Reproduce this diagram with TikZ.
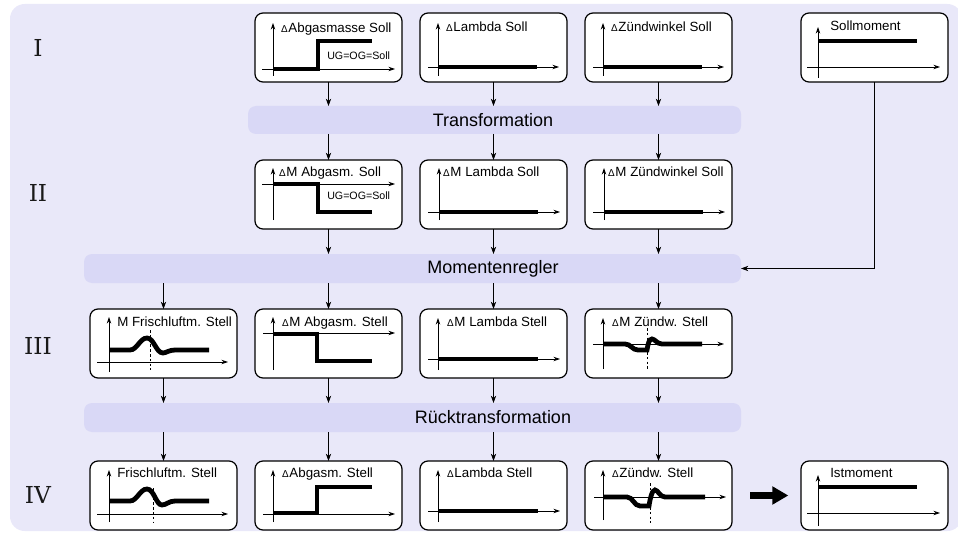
\documentclass[tikz,border=0pt]{standalone}
\usepackage{fontspec}
\setmainfont{Liberation Sans}
\newfontfamily\romfont{DejaVu Serif}
\usetikzlibrary{arrows.meta,fit}

\definecolor{bgcol}{HTML}{E9E8F9}
\definecolor{bandcol}{HTML}{D9D8F6}

% small delta sign in front of the chart titles
\newcommand\dd{{\fontsize{7.5}{7.5}\selectfont\symbol{"2206}}\hspace{0.8pt}}

\tikzset{
  band/.style={fill=bandcol, rounded corners=6pt, inner sep=0pt, outer sep=0pt},
  chart/.style={draw=black, line width=0.9pt, fill=white, rounded corners=6pt,
    inner sep=0pt, outer sep=0pt, anchor=north west,
    minimum width=110.25pt, minimum height=51.75pt},
  axis/.style={line width=0.65pt, -{Stealth[length=5pt,width=3.4pt]}},
  sig/.style={line width=3.6pt},
  guide/.style={line width=0.65pt, dash pattern=on 2pt off 1.6pt},
  flow/.style={line width=0.7pt, -{Stealth[length=5.5pt,width=4pt]}},
  bigarrow/.style={line width=4.6pt, -{Triangle[length=12pt,width=13pt]}},
  title/.style={font=\fontsize{10}{12}\selectfont, anchor=base west, inner sep=0pt},
  small/.style={font=\fontsize{8}{10}\selectfont, anchor=west, inner sep=0pt},
  bandtext/.style={font=\fontsize{13.5}{16}\selectfont, inner sep=0pt},
  rowlabel/.style={font=\romfont\fontsize{17.5}{20}\selectfont, inner sep=0pt,
    text=black!90},
}

\begin{document}
\begin{tikzpicture}[x=0.75pt, y=-0.75pt]
\useasboundingbox (0,0) rectangle (958,535);

% background panel
\fill[bgcol, rounded corners=11pt] (10,4) rectangle (962,531);

% row numbers
\node[rowlabel] (rI)   at (38,48)  {I};
\node[rowlabel] (rII)  at (38,193) {II};
\node[rowlabel] (rIII) at (38,346) {III};
\node[rowlabel] (rIV)  at (38,495) {IV};

% processing bands
\node[band, fit={(248,106) (741,134)}] (tr) {};
\node[band, fit={(84,254) (741,283)}] (mr) {};
\node[band, fit={(84,403) (741,432)}] (rt) {};
\node[bandtext] (trt) at (493,120.5) {Transformation};
\node[bandtext] (mrt) at (493,268.5) {Momentenregler};
\node[bandtext] (rtt) at (493,417.5) {Rücktransformation};

% ---------- row I ----------
\node[chart] (aI) at (255,13) {};
\begin{scope}[shift={(aI.north west)}]
  \draw[axis] (18,63) -- (18,10);
  \draw[axis] (7,56) -- (140,56);
  \draw[sig] (18,56) -- (63,56) -- (63,28) -- (117,28);
  \node[small] (aIu) at (72,43) {UG=OG=Soll};
  \node[title] (aIt) at (26,20) {\dd Abgasmasse Soll};
\end{scope}

\node[chart] (lI) at (420,13) {};
\begin{scope}[shift={(lI.north west)}]
  \draw[axis] (18,63) -- (18,10);
  \draw[axis] (8,54) -- (139,54);
  \draw[sig] (18,54) -- (117,54);
  \node[title] (lIt) at (26,19) {\dd Lambda Soll};
\end{scope}

\node[chart] (zI) at (585,13) {};
\begin{scope}[shift={(zI.north west)}]
  \draw[axis] (18,63) -- (18,10);
  \draw[axis] (8,54) -- (139,54);
  \draw[sig] (18,54) -- (117,54);
  \node[title] (zIt) at (26,19) {\dd Zündwinkel Soll};
\end{scope}

\node[chart] (soll) at (801,13) {};
\begin{scope}[shift={(soll.north west)}]
  \draw[axis] (17,65) -- (17,14);
  \draw[axis] (6,54) -- (139,54);
  \draw[sig] (17,28) -- (116,28);
  \node[title] (sollt) at (29,18) {Sollmoment};
\end{scope}

% ---------- row II ----------
\node[chart] (aII) at (255,160) {};
\begin{scope}[shift={(aII.north west)}]
  \draw[axis] (18,60) -- (18,8);
  \draw[axis] (7,24) -- (140,24);
  \draw[sig] (18,24) -- (63,24) -- (63,52) -- (117,52);
  \node[small] (aIIu) at (72,36) {UG=OG=Soll};
  \node[title] (aIIt) at (24,16) {\dd M Abgasm. Soll};
\end{scope}

\node[chart] (lII) at (420,160) {};
\begin{scope}[shift={(lII.north west)}]
  \draw[axis] (19,60) -- (19,8);
  \draw[axis] (8,52) -- (140,52);
  \draw[sig] (19,52) -- (118,52);
  \node[title] (lIIt) at (23,16) {\dd M Lambda Soll};
\end{scope}

\node[chart] (zII) at (585,160) {};
\begin{scope}[shift={(zII.north west)}]
  \draw[axis] (19,60) -- (19,8);
  \draw[axis] (8,52) -- (140,52);
  \draw[sig] (19,52) -- (118,52);
  \node[title] (zIIt) at (23,16) {\dd M Zündwinkel Soll};
\end{scope}

% ---------- row III ----------
\node[chart] (fIII) at (90,309) {};
\begin{scope}[shift={(fIII.north west)}]
  \draw[axis] (19,63) -- (19,8);
  \draw[axis] (7,53) -- (138,53);
  \draw[guide] (60,21) -- (60,61);
  \draw[sig] (19,41) -- (40,41) .. controls (47,41) and (50,29) .. (57,29)
    .. controls (64,29) and (66,44) .. (73,44) .. controls (76,44) and (79,41) .. (85,41) -- (119,41);
  \node[title] (fIIIt) at (27,17) {M Frischluftm. Stell};
\end{scope}

\node[chart] (aIII) at (255,309) {};
\begin{scope}[shift={(aIII.north west)}]
  \draw[axis] (18,61) -- (18,8);
  \draw[axis] (8,24) -- (140,24);
  \draw[sig] (18,25) -- (62,25) -- (62,52) -- (117,52);
  \node[title] (aIIIt) at (27,17) {\dd M Abgasm. Stell};
\end{scope}

\node[chart] (lIII) at (420,309) {};
\begin{scope}[shift={(lIII.north west)}]
  \draw[axis] (18,61) -- (18,9);
  \draw[axis] (8,50) -- (140,50);
  \draw[sig] (18,50) -- (118,50);
  \node[title] (lIIIt) at (27,17) {\dd M Lambda Stell};
\end{scope}

\node[chart] (zIII) at (585,309) {};
\begin{scope}[shift={(zIII.north west)}]
  \draw[axis] (18,60) -- (18,9);
  \draw[axis] (8,35) -- (139,35);
  \draw[guide] (62,19) -- (62,60);
  \draw[sig] (18,35) -- (40,35) .. controls (46,35) and (47,41) .. (53,41) -- (62,41)
    .. controls (63,35) and (64,30) .. (67,30) .. controls (70,30) and (72,35) .. (77,35) -- (117,35);
  \node[title] (zIIIt) at (27,17) {\dd M Zündw. Stell};
\end{scope}

% ---------- row IV ----------
\node[chart] (fIV) at (90,461) {};
\begin{scope}[shift={(fIV.north west)}]
  \draw[axis] (19,61) -- (19,9);
  \draw[axis] (7,53) -- (138,53);
  \draw[guide] (63,27) -- (63,62);
  \draw[sig] (19,40) -- (40,40) .. controls (47,40) and (50,28) .. (57,28)
    .. controls (64,28) and (66,44) .. (72,44) .. controls (76,44) and (79,40) .. (85,40) -- (119,40);
  \node[title] (fIVt) at (27,16) {Frischluftm. Stell};
\end{scope}

\node[chart] (aIV) at (255,461) {};
\begin{scope}[shift={(aIV.north west)}]
  \draw[axis] (18,61) -- (18,9);
  \draw[axis] (8,53) -- (140,53);
  \draw[sig] (18,52) -- (62,52) -- (62,26) -- (117,26);
  \node[title] (aIVt) at (27,16) {\dd Abgasm. Stell};
\end{scope}

\node[chart] (lIV) at (420,461) {};
\begin{scope}[shift={(lIV.north west)}]
  \draw[axis] (18,61) -- (18,9);
  \draw[axis] (8,50) -- (140,50);
  \draw[sig] (18,50) -- (118,50);
  \node[title] (lIVt) at (27,16) {\dd Lambda Stell};
\end{scope}

\node[chart] (zIV) at (585,461) {};
\begin{scope}[shift={(zIV.north west)}]
  \draw[axis] (18,59) -- (18,9);
  \draw[axis] (9,36) -- (141,36);
  \draw[guide] (65,22) -- (65,62);
  \draw[sig] (18,36) -- (42,36) .. controls (48,36) and (49,45) .. (55,45) -- (64,45)
    .. controls (65,38) and (67,29) .. (70,29) .. controls (73,29) and (75,36) .. (80,36) -- (120,36);
  \node[title] (zIVt) at (27,16) {\dd Zündw. Stell};
\end{scope}

\node[chart] (ist) at (801,461) {};
\begin{scope}[shift={(ist.north west)}]
  \draw[axis] (17,65) -- (17,14);
  \draw[axis] (6,52) -- (139,52);
  \draw[sig] (17,26) -- (116,26);
  \node[title] (istt) at (29,16) {Istmoment};
\end{scope}

% ---------- connectors ----------
\foreach \c in {aI,lI,zI} \draw[flow] (\c.south) -- (\c.south |- tr.north);
\foreach \c in {aII,lII,zII} \draw[flow] (\c.north |- tr.south) -- (\c.north);
\foreach \c in {aII,lII,zII} \draw[flow] (\c.south) -- (\c.south |- mr.north);
\foreach \c in {fIII,aIII,lIII,zIII} \draw[flow] (\c.north |- mr.south) -- (\c.north);
\foreach \c in {fIII,aIII,lIII,zIII} \draw[flow] (\c.south) -- (\c.south |- rt.north);
\foreach \c in {fIV,aIV,lIV,zIV} \draw[flow] (\c.north |- rt.south) -- (\c.north);
\draw[flow] (soll.south) |- (mr.east);
\draw[bigarrow, shorten <=13.5pt, shorten >=9.5pt] (zIV.east) -- (ist.west);

\end{tikzpicture}
\end{document}
